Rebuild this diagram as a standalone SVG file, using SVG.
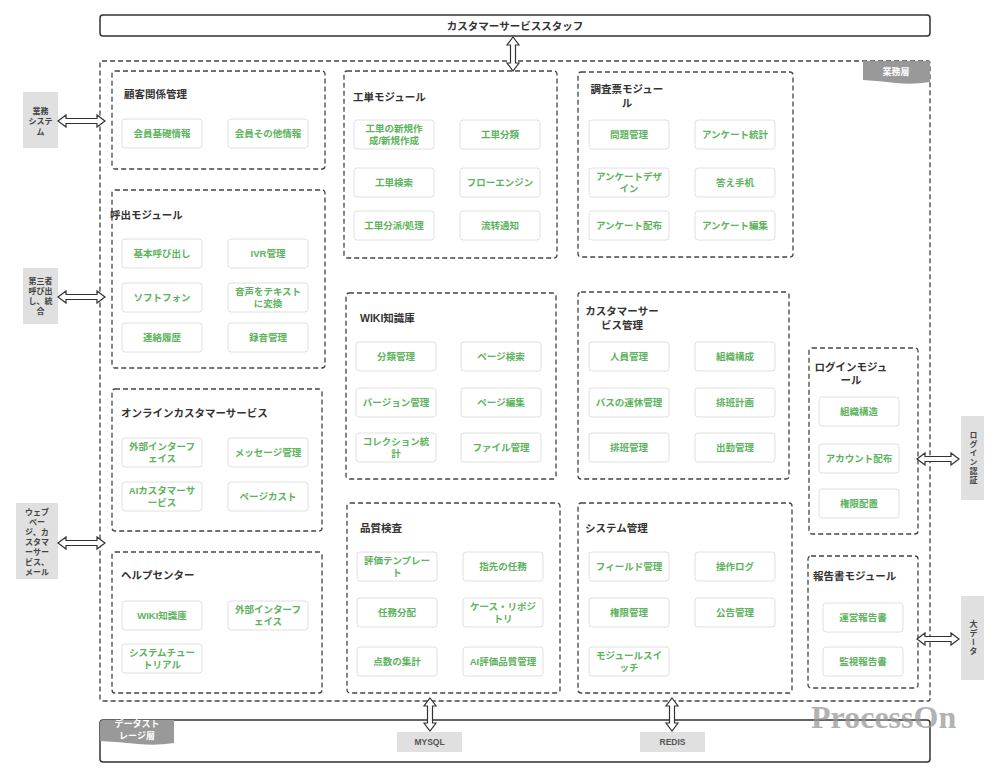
<svg xmlns="http://www.w3.org/2000/svg" width="1000" height="777" viewBox="0 0 1000 777">
<style>
text{font-family:"Liberation Sans","Noto Sans CJK JP",sans-serif}
.mod{fill:none;stroke:#444;stroke-width:1.3;stroke-dasharray:5 3}
.item{fill:#fff;stroke:#e0e0e0;stroke-width:1}
.it{font-size:9.5px;fill:#5cb35c;text-anchor:middle;font-weight:bold}
.ttl{font-size:10.5px;font-weight:bold;fill:#333}
.ttlc{font-size:10.5px;font-weight:bold;fill:#333;text-anchor:middle}
.ext{fill:#e0e0e0}
.extt{font-size:8px;fill:#444;text-anchor:middle;font-weight:bold}
.arr{fill:#fff;stroke:#333;stroke-width:1.2;stroke-linejoin:miter}
.box{fill:#fff;stroke:#333;stroke-width:1.5}
.tab{fill:#999}
.tabt{font-size:9px;fill:#fff;text-anchor:middle;font-weight:bold}
.db{fill:#e0e0e0}
.dbt{font-size:8.5px;font-weight:bold;fill:#555;text-anchor:middle}
</style>
<rect width="1000" height="777" fill="#fff"/>

<g id="staff">
<rect class="box" x="100" y="15" width="830" height="21" rx="3"/>
<text class="ttlc" x="515" y="29.5">カスタマーサービススタッフ</text>
</g>

<g id="business-layer">
<rect class="mod" x="100" y="61" width="830" height="640" rx="2"/>
<path class="tab" d="M863,61 H930 V82 Q912,85 896,83 T863,80 Z"/>
<text class="tabt" x="896" y="75">業務層</text>
</g>

<g id="storage-layer">
<rect class="box" x="100" y="720" width="830" height="42" rx="3"/>
<path class="tab" d="M100,723 Q100,720 103,720 H174 V743 Q156,746 138,744 T100,741 Z"/>
<text class="tabt" x="137" y="727">データスト</text>
<text class="tabt" x="137" y="739">レージ層</text>
</g>

<g id="crm">
<rect class="mod" x="112" y="71" width="213" height="98" rx="3"/>
<text class="ttl" x="124" y="98">顧客関係管理</text>
<rect class="item" x="122" y="119" width="80" height="29" rx="3"/><text class="it" x="162" y="137">会員基礎情報</text>
<rect class="item" x="228" y="119" width="80" height="29" rx="3"/><text class="it" x="268" y="137">会員その他情報</text>
</g>

<g id="call">
<rect class="mod" x="112" y="190" width="213" height="178" rx="3"/>
<text class="ttl" x="110" y="219">呼出モジュール</text>
<rect class="item" x="122" y="239" width="80" height="29" rx="3"/><text class="it" x="162" y="257">基本呼び出し</text>
<rect class="item" x="228" y="239" width="80" height="29" rx="3"/><text class="it" x="268" y="257">IVR管理</text>
<rect class="item" x="122" y="283" width="80" height="29" rx="3"/><text class="it" x="162" y="301">ソフトフォン</text>
<rect class="item" x="228" y="283" width="80" height="29" rx="3"/><text class="it" x="268" y="295">音声をテキスト</text><text class="it" x="268" y="307">に変換</text>
<rect class="item" x="122" y="323" width="80" height="29" rx="3"/><text class="it" x="162" y="341">連絡履歴</text>
<rect class="item" x="228" y="323" width="80" height="29" rx="3"/><text class="it" x="268" y="341">録音管理</text>
</g>

<g id="online">
<rect class="mod" x="112" y="389" width="210" height="142" rx="3"/>
<text class="ttl" x="121" y="417">オンラインカスタマーサービス</text>
<rect class="item" x="122" y="438" width="80" height="29" rx="3"/><text class="it" x="162" y="450">外部インターフ</text><text class="it" x="162" y="462">ェイス</text>
<rect class="item" x="228" y="438" width="80" height="29" rx="3"/><text class="it" x="268" y="456">メッセージ管理</text>
<rect class="item" x="122" y="482" width="80" height="29" rx="3"/><text class="it" x="162" y="494">AIカスタマーサ</text><text class="it" x="162" y="506">ービス</text>
<rect class="item" x="228" y="482" width="80" height="29" rx="3"/><text class="it" x="268" y="500">ページカスト</text>
</g>

<g id="help">
<rect class="mod" x="112" y="552" width="210" height="141" rx="3"/>
<text class="ttl" x="121" y="579">ヘルプセンター</text>
<rect class="item" x="122" y="601" width="80" height="29" rx="3"/><text class="it" x="162" y="619">WIKI知識庫</text>
<rect class="item" x="228" y="601" width="80" height="29" rx="3"/><text class="it" x="268" y="613">外部インターフ</text><text class="it" x="268" y="625">ェイス</text>
<rect class="item" x="122" y="644" width="80" height="29" rx="3"/><text class="it" x="162" y="656">システムチュー</text><text class="it" x="162" y="668">トリアル</text>
</g>

<g id="ticket">
<rect class="mod" x="344" y="71" width="213" height="187" rx="3"/>
<text class="ttl" x="353" y="101">工単モジュール</text>
<rect class="item" x="354" y="120" width="80" height="29" rx="3"/><text class="it" x="394" y="132">工単の新規作</text><text class="it" x="394" y="144">成/新規作成</text>
<rect class="item" x="460" y="120" width="80" height="29" rx="3"/><text class="it" x="500" y="138">工単分類</text>
<rect class="item" x="354" y="168" width="80" height="29" rx="3"/><text class="it" x="394" y="186">工単検索</text>
<rect class="item" x="460" y="168" width="80" height="29" rx="3"/><text class="it" x="500" y="186">フローエンジン</text>
<rect class="item" x="354" y="211" width="80" height="29" rx="3"/><text class="it" x="394" y="229">工単分派/処理</text>
<rect class="item" x="460" y="211" width="80" height="29" rx="3"/><text class="it" x="500" y="229">流转通知</text>
</g>

<g id="survey">
<rect class="mod" x="578" y="72" width="215" height="185" rx="3"/>
<text class="ttlc" x="627" y="93">調査票モジュー</text><text class="ttlc" x="627" y="107">ル</text>
<rect class="item" x="589" y="120" width="80" height="29" rx="3"/><text class="it" x="629" y="138">問題管理</text>
<rect class="item" x="695" y="120" width="80" height="29" rx="3"/><text class="it" x="735" y="138">アンケート統計</text>
<rect class="item" x="589" y="168" width="80" height="29" rx="3"/><text class="it" x="629" y="180">アンケートデザ</text><text class="it" x="629" y="192">イン</text>
<rect class="item" x="695" y="168" width="80" height="29" rx="3"/><text class="it" x="735" y="186">答え手机</text>
<rect class="item" x="589" y="211" width="80" height="29" rx="3"/><text class="it" x="629" y="229">アンケート配布</text>
<rect class="item" x="695" y="211" width="80" height="29" rx="3"/><text class="it" x="735" y="229">アンケート編集</text>
</g>

<g id="wiki">
<rect class="mod" x="346" y="293" width="210" height="186" rx="3"/>
<text class="ttl" x="360" y="322">WIKI知識庫</text>
<rect class="item" x="356" y="342" width="80" height="29" rx="3"/><text class="it" x="396" y="360">分類管理</text>
<rect class="item" x="461" y="342" width="80" height="29" rx="3"/><text class="it" x="501" y="360">ページ検索</text>
<rect class="item" x="356" y="388" width="80" height="29" rx="3"/><text class="it" x="396" y="406">バージョン管理</text>
<rect class="item" x="461" y="388" width="80" height="29" rx="3"/><text class="it" x="501" y="406">ページ編集</text>
<rect class="item" x="356" y="433" width="80" height="29" rx="3"/><text class="it" x="396" y="445">コレクション統</text><text class="it" x="396" y="457">計</text>
<rect class="item" x="461" y="433" width="80" height="29" rx="3"/><text class="it" x="501" y="451">ファイル管理</text>
</g>

<g id="cs-management">
<rect class="mod" x="578" y="292" width="211" height="187" rx="3"/>
<text class="ttlc" x="622" y="315">カスタマーサー</text><text class="ttlc" x="622" y="329">ビス管理</text>
<rect class="item" x="589" y="342" width="80" height="29" rx="3"/><text class="it" x="629" y="360">人員管理</text>
<rect class="item" x="695" y="342" width="80" height="29" rx="3"/><text class="it" x="735" y="360">組織構成</text>
<rect class="item" x="589" y="388" width="80" height="29" rx="3"/><text class="it" x="629" y="406">バスの運休管理</text>
<rect class="item" x="695" y="388" width="80" height="29" rx="3"/><text class="it" x="735" y="406">排班計画</text>
<rect class="item" x="589" y="433" width="80" height="29" rx="3"/><text class="it" x="629" y="451">排班管理</text>
<rect class="item" x="695" y="433" width="80" height="29" rx="3"/><text class="it" x="735" y="451">出勤管理</text>
</g>

<g id="quality">
<rect class="mod" x="347" y="503" width="213" height="190" rx="3"/>
<text class="ttl" x="360" y="532">品質検査</text>
<rect class="item" x="357" y="552" width="80" height="29" rx="3"/><text class="it" x="397" y="564">評価テンプレー</text><text class="it" x="397" y="576">ト</text>
<rect class="item" x="463" y="552" width="80" height="29" rx="3"/><text class="it" x="503" y="570">指先の任務</text>
<rect class="item" x="357" y="598" width="80" height="29" rx="3"/><text class="it" x="397" y="616">任務分配</text>
<rect class="item" x="463" y="598" width="80" height="29" rx="3"/><text class="it" x="503" y="610">ケース・リポジ</text><text class="it" x="503" y="622">トリ</text>
<rect class="item" x="357" y="647" width="80" height="29" rx="3"/><text class="it" x="397" y="665">点数の集計</text>
<rect class="item" x="463" y="647" width="80" height="29" rx="3"/><text class="it" x="503" y="665">AI評価品質管理</text>
</g>

<g id="system">
<rect class="mod" x="578" y="503" width="214" height="190" rx="3"/>
<text class="ttl" x="585" y="532">システム管理</text>
<rect class="item" x="589" y="552" width="80" height="29" rx="3"/><text class="it" x="629" y="570">フィールド管理</text>
<rect class="item" x="695" y="552" width="80" height="29" rx="3"/><text class="it" x="735" y="570">操作ログ</text>
<rect class="item" x="589" y="598" width="80" height="29" rx="3"/><text class="it" x="629" y="616">権限管理</text>
<rect class="item" x="695" y="598" width="80" height="29" rx="3"/><text class="it" x="735" y="616">公告管理</text>
<rect class="item" x="589" y="647" width="80" height="29" rx="3"/><text class="it" x="629" y="659">モジュールスイ</text><text class="it" x="629" y="671">ッチ</text>
</g>

<g id="login">
<rect class="mod" x="809" y="348" width="109" height="186" rx="3"/>
<text class="ttlc" x="851" y="371">ログインモジュ</text><text class="ttlc" x="851" y="384">ール</text>
<rect class="item" x="819" y="397" width="80" height="29" rx="3"/><text class="it" x="859" y="415">組織構造</text>
<rect class="item" x="819" y="444" width="80" height="29" rx="3"/><text class="it" x="859" y="462">アカウント配布</text>
<rect class="item" x="819" y="489" width="80" height="29" rx="3"/><text class="it" x="859" y="507">権限配置</text>
</g>

<g id="report">
<rect class="mod" x="808" y="556" width="110" height="132" rx="3"/>
<text class="ttl" x="813" y="580">報告書モジュール</text>
<rect class="item" x="823" y="603" width="80" height="29" rx="3"/><text class="it" x="863" y="621">運営報告書</text>
<rect class="item" x="823" y="647" width="80" height="29" rx="3"/><text class="it" x="863" y="665">監視報告書</text>
</g>

<g id="ext-business">
<rect class="ext" x="23" y="92" width="35" height="56"/>
<text class="extt" x="40.5" y="113.5">業務</text><text class="extt" x="40.5" y="124">システ</text><text class="extt" x="40.5" y="134.5">ム</text>
</g>
<g id="ext-thirdparty">
<rect class="ext" x="23" y="268" width="35" height="56"/>
<text class="extt" x="40.5" y="284">第三者</text><text class="extt" x="40.5" y="294">呼び出</text><text class="extt" x="40.5" y="304">し、統</text><text class="extt" x="40.5" y="314">合</text>
</g>
<g id="ext-web">
<rect class="ext" x="16" y="503" width="42" height="76"/>
<text class="extt" x="37" y="515">ウェブ</text><text class="extt" x="37" y="525">ペー</text><text class="extt" x="37" y="535">ジ、カ</text><text class="extt" x="37" y="545">スタマ</text><text class="extt" x="37" y="555">ーサー</text><text class="extt" x="37" y="565">ビス、</text><text class="extt" x="37" y="575">メール</text>
</g>
<g id="ext-auth">
<rect class="ext" x="961" y="416" width="23" height="84"/>
<text class="extt" x="972.5" y="458" style="writing-mode:vertical-rl;letter-spacing:1px">ログイン認証</text>
</g>
<g id="ext-bigdata">
<rect class="ext" x="961" y="596" width="23" height="84"/>
<text class="extt" x="972.5" y="638" style="writing-mode:vertical-rl;letter-spacing:1px">大データ</text>
</g>
<g id="mysql">
<rect class="db" x="397" y="732" width="65" height="20"/>
<text class="dbt" x="429.5" y="745">MYSQL</text>
</g>
<g id="redis">
<rect class="db" x="640" y="732" width="65" height="20"/>
<text class="dbt" x="672.5" y="745">REDIS</text>
</g>

<g id="connectors">
<path class="arr" d="M58,121 L66,115 L66,118.5 L97,118.5 L97,115 L105,121 L97,127 L97,123.5 L66,123.5 L66,127 Z"/>
<path class="arr" d="M58,297 L66,291 L66,294.5 L97,294.5 L97,291 L105,297 L97,303 L97,299.5 L66,299.5 L66,303 Z"/>
<path class="arr" d="M58,543 L66,537 L66,540.5 L97,540.5 L97,537 L105,543 L97,549 L97,545.5 L66,545.5 L66,549 Z"/>
<path class="arr" d="M917,459 L925,453 L925,456.5 L951,456.5 L951,453 L959,459 L951,465 L951,461.5 L925,461.5 L925,465 Z"/>
<path class="arr" d="M917,639 L925,633 L925,636.5 L951,636.5 L951,633 L959,639 L951,645 L951,641.5 L925,641.5 L925,645 Z"/>
<path class="arr" d="M513,37 L519,45 L515.5,45 L515.5,63 L519,63 L513,71 L507,63 L510.5,63 L510.5,45 L507,45 Z"/>
<path class="arr" d="M430,698 L436,706 L432.5,706 L432.5,723 L436,723 L430,731 L424,723 L427.5,723 L427.5,706 L424,706 Z"/>
<path class="arr" d="M672,698 L678,706 L674.5,706 L674.5,723 L678,723 L672,731 L666,723 L669.5,723 L669.5,706 L666,706 Z"/>
</g>

<text x="811" y="728" style="font-family:'Liberation Serif',serif;font-size:32px;font-weight:bold;fill:#999;opacity:0.75">ProcessOn</text>
</svg>
